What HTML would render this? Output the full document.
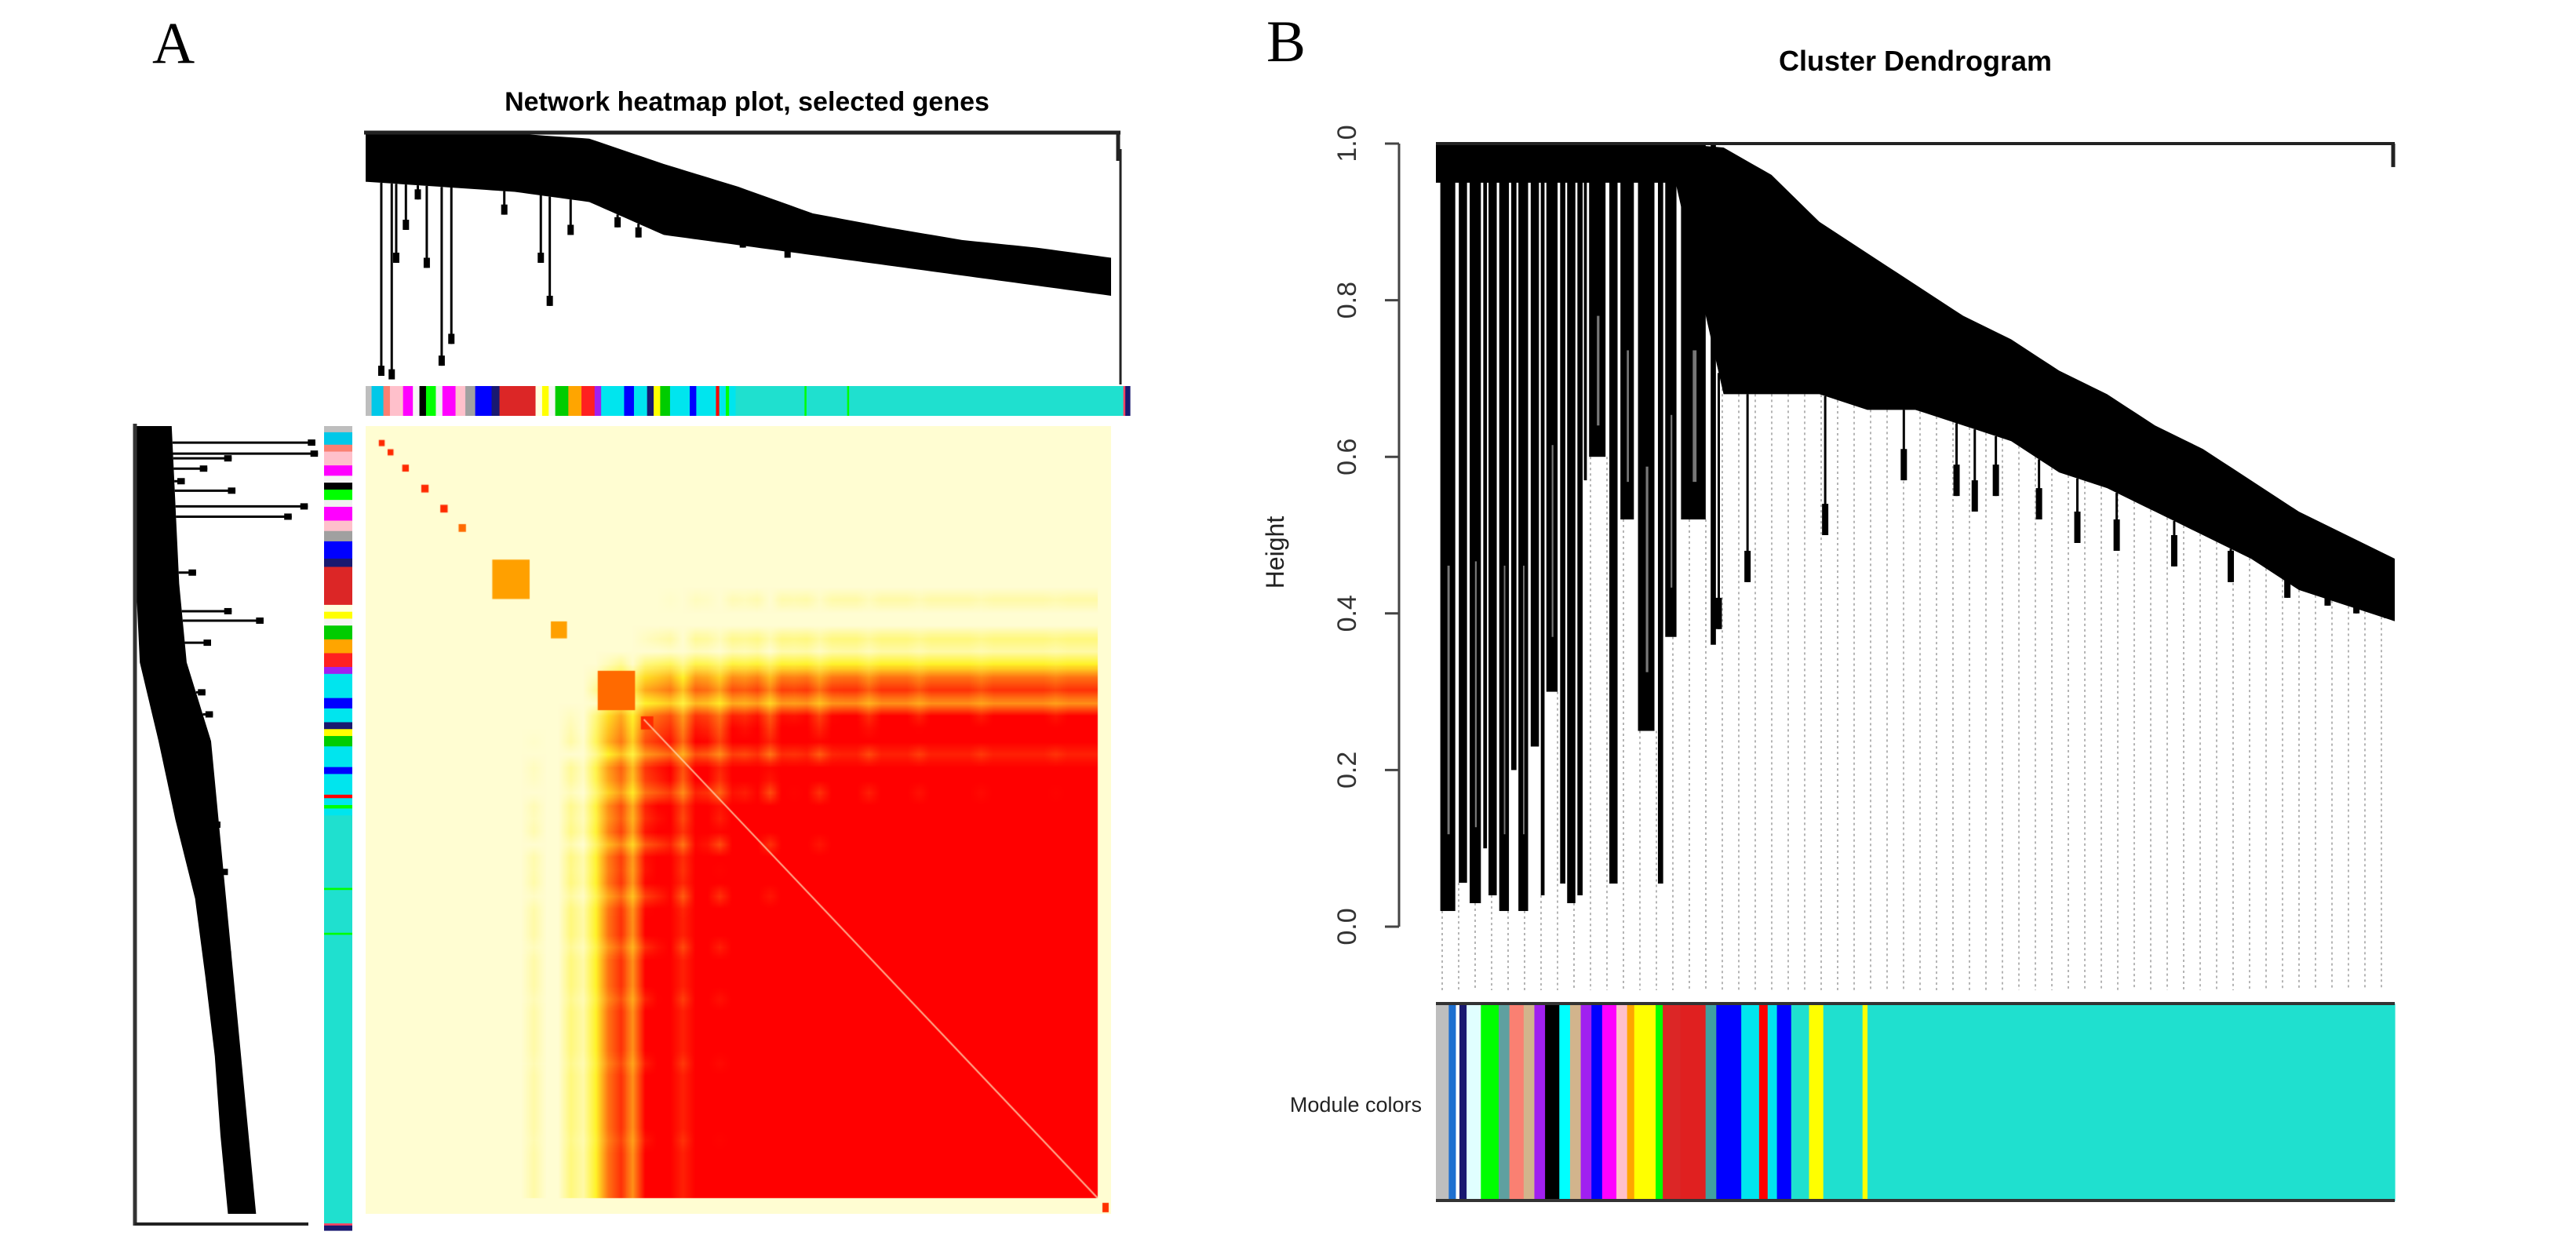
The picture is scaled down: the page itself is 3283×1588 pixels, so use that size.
<!DOCTYPE html>
<html><head><meta charset="utf-8"><style>
html,body{margin:0;padding:0;background:#fff;}
#wrap{position:relative;width:3283px;height:1588px;overflow:hidden;background:#fff;}
svg{position:absolute;left:0;top:0;}
#hm{position:absolute;left:466px;top:543px;}
</style></head><body>
<div id="wrap">
<canvas id="hm" width="950" height="1004"></canvas>
<svg id="svg" width="3283" height="1588" xmlns="http://www.w3.org/2000/svg">
<text x="194" y="80" font-family="Liberation Serif, serif" font-size="75">A</text>
<text x="952" y="141" text-anchor="middle" font-family="Liberation Sans, sans-serif" font-weight="bold" font-size="34">Network heatmap plot, selected genes</text>
<text x="1614" y="78" font-family="Liberation Serif, serif" font-size="75">B</text>
<text x="2441" y="90" text-anchor="middle" font-family="Liberation Sans, sans-serif" font-weight="bold" font-size="36">Cluster Dendrogram</text>
<text transform="translate(1636,704) rotate(-90)" text-anchor="middle" font-family="Liberation Sans, sans-serif" font-size="32" fill="#222">Height</text>
<text x="1812" y="1417" text-anchor="end" font-family="Liberation Sans, sans-serif" font-size="27" fill="#222">Module colors</text>
<g id="gA"></g>
<g id="gB"></g>
</svg>
</div>
<script>
// ---------- data ----------
const treeAUpper = [0.99,0.99,0.99,0.97,0.87,0.78,0.675,0.62,0.57,0.54,0.5];
const treeALower = [0.80,0.78,0.76,0.72,0.59,0.55,0.51,0.47,0.43,0.39,0.35];
const treeASpikePos = [0.021,0.035,0.041,0.054,0.07,0.082,0.102,0.115,0.186,0.235,0.247,0.275,0.338,0.366,0.506,0.566,0.668];
const treeASpikeH   = [0.034,0.02,0.48,0.61,0.73,0.46,0.074,0.16,0.67,0.48,0.31,0.59,0.62,0.58,0.54,0.5,0.51];
const modAColors = ["#bebebe","#00c8e8","#fa8072","#ffc0cb","#ff00ff","#f5f5f5","#000000","#00ff00","#f0f0f0","#ff00ff","#ffc0cb","#a0a0a0","#0000ff","#191970","#dc2626","#ffffe0","#ffff00","#f5f5f5","#00cc00","#ffa500","#ff2020","#a020f0","#00e5ee","#0000ff","#00e5ee","#191970","#ffff00","#00cc00","#00e5ee","#0000ff","#00e5ee","#ff0000","#00e5ee","#00ff00","#00e5ee","#1fe0cf","#00ff00","#1fe0cf","#00ff00","#1fe0cf","#ff4060","#191970"];
const modASizes  = [9,18,10,20,15,10,10,15,10,20,15,15,25,12,55,10,10,10,20,20,20,10,35,15,20,10,10,15,30,10,30,5,10,5,10,105,3,62,3,418,3,7];
const conn = [0.1,0.12,0.1,0.15,0.1,0.12,0.2,0.15,0.1,0.25,0.3,0.2,0.15,0.35,0.3,0.25,0.4,0.35,0.5,
 0.66,0.74,0.62,0.8,0.84,0.88,0.76,0.92,0.9,0.82,0.95,0.93,0.97,0.86,0.98,0.97,0.99,0.9,0.99,1,1,0.93,1,1,1,0.95,1,1,1,1,0.96,1,1,1,1,1,0.97,1,1,1,1];
const blockStart = [0.018,0.03,0.05,0.076,0.102,0.127,0.173,0.253,0.317,0.376];
const blockEnd   = [0.026,0.038,0.059,0.086,0.112,0.137,0.224,0.275,0.368,0.393];
const blockStr   = [1,1,0.9,1,0.9,0.8,0.6,0.6,0.75,1];
// Panel B: right-hand tree envelopes (21 samples over full width)
const treeBUpper = [1,1,1,1,1,1,0.995,0.96,0.9,0.86,0.82,0.78,0.75,0.71,0.68,0.64,0.61,0.57,0.53,0.5,0.47];
const treeBLower = [0.95,0.95,0.95,0.95,0.95,0.95,0.68,0.68,0.68,0.66,0.66,0.64,0.62,0.58,0.56,0.53,0.5,0.47,0.43,0.41,0.39];
const treeBSpikePos = [0.295,0.325,0.406,0.488,0.543,0.562,0.584,0.629,0.669,0.71,0.77,0.829,0.888,0.93,0.96,0.99];
const treeBSpikeH   = [0.38,0.44,0.5,0.57,0.55,0.53,0.55,0.52,0.49,0.48,0.46,0.44,0.42,0.41,0.4,0.4];
// Panel B: left "forest" of deep clusters (start, end position; bottom height)
const forestStart = [0.003,0.023,0.034,0.049,0.054,0.065,0.078,0.085,0.098,0.109,0.114,0.129,0.136,0.147,0.154,0.158,0.18,0.191,0.209,0.231,0.238,0.253,0.286];
const forestEnd   = [0.023,0.034,0.049,0.054,0.065,0.078,0.085,0.098,0.109,0.114,0.129,0.136,0.147,0.154,0.158,0.18,0.191,0.209,0.231,0.238,0.253,0.286,0.293];
const forestBottom= [0.02,0.056,0.03,0.1,0.04,0.02,0.2,0.02,0.23,0.04,0.3,0.055,0.03,0.04,0.57,0.6,0.055,0.52,0.25,0.055,0.37,0.52,0.36];
const yTicks = [0,0.2,0.4,0.6,0.8,1.0];
const yTickLabels = ["0.0","0.2","0.4","0.6","0.8","1.0"];
const modBColors = ["#bebebe","#1e6fd0","#ffffff","#191970","#e0ffff","#00ff00","#5fa0a0","#fa8072","#d2b48c","#a020f0","#000000","#00ffff","#d2b48c","#a020f0","#0000ff","#ff00ff","#ffc0cb","#ffa500","#ffff00","#00ff00","#dc2626","#e02020","#40a0a0","#0000ff","#00e5ee","#ff0000","#00e5ee","#0000ff","#1fe0cf","#ffff00","#1fe0cf","#ffff00","#1fe0cf"];
const modBSizes  = [18,10,5,10,20,25,15,20,15,15,20,15,15,15,15,20,15,10,30,10,25,35,15,35,25,12,13,20,25,20,55,7,739];

// ---------- helpers ----------
const NS = "http://www.w3.org/2000/svg";
function mk(parent, tag, attrs){ const e=document.createElementNS(NS,tag); for(const k in attrs) e.setAttribute(k,attrs[k]); parent.appendChild(e); return e; }
function interp(arr,f){ const n=arr.length-1; const p=Math.max(0,Math.min(n,f*n)); const i=Math.min(n-1,Math.floor(p)); const t=p-i; return arr[i]*(1-t)+arr[i+1]*t; }

function drawTree(g, upper, lower, spPos, spH, map, name){
  const pts=[]; const M=100;
  for(let k=0;k<=M;k++){ const f=k/M; pts.push(map(f,interp(upper,f))); }
  for(let k=M;k>=0;k--){ const f=k/M; pts.push(map(f,interp(lower,f))); }
  const poly = mk(g,'polygon',{points:pts.map(p=>p.join(',')).join(' '),fill:'#000'});
  
  
  for(let i=0;i<spPos.length;i++){
    const f=spPos[i]; const a=map(f,interp(lower,f)); const b=map(f,spH[i]);
    const ln = mk(g,'line',{x1:a[0],y1:a[1],x2:b[0],y2:b[1],stroke:'#000','stroke-width':3});
    
    
    const c = map(f,spH[i]+0.04);
    const tip = mk(g,'line',{x1:c[0],y1:c[1],x2:b[0],y2:b[1],stroke:'#000','stroke-width':8});
    
    
  }
}
function drawBar(g, colors, sizes, x0, y0, len, thick, vertical, name){
  const tot=sizes.reduce((a,b)=>a+b,0); let acc=0;
  for(let i=0;i<sizes.length;i++){
    const s=acc/tot*len, w=sizes[i]/tot*len+0.6; acc+=sizes[i];
    const r = vertical ? mk(g,'rect',{x:x0,y:y0+s,width:thick,height:w,fill:colors[i]})
                       : mk(g,'rect',{x:x0+s,y:y0,width:w,height:thick,fill:colors[i]});
    
    
  }
}

// ---------- Panel A ----------
const gA=document.getElementById('gA');
const HL=466, HR=1416, HT=543, HB=1547;
const topMap=(f,h)=>[HL+f*(HR-HL), 490-h*323];
drawTree(gA, treeAUpper, treeALower, treeASpikePos, treeASpikeH, topMap, 'top-dendrogram');
let e=mk(gA,'line',{x1:464,y1:169,x2:1428,y2:169,stroke:'#222','stroke-width':5});


e=mk(gA,'line',{x1:1425,y1:169,x2:1425,y2:205,stroke:'#222','stroke-width':5});


e=mk(gA,'line',{x1:1428,y1:190,x2:1428,y2:490,stroke:'#222','stroke-width':3});


const leftMap=(f,h)=>[410-h*239, HT+f*(HB-HT)];
drawTree(gA, treeAUpper, treeALower, treeASpikePos, treeASpikeH, leftMap, 'left-dendrogram');
e=mk(gA,'line',{x1:172,y1:540,x2:172,y2:1562,stroke:'#333','stroke-width':5});


e=mk(gA,'line',{x1:172,y1:1560,x2:393,y2:1560,stroke:'#222','stroke-width':4});


drawBar(gA, modAColors, modASizes, 466, 492, 974, 38, false, 'top-module-bar');
drawBar(gA, modAColors, modASizes, 413, 543, 1025, 36, true, 'left-module-bar');

(function(){
  const cv=document.getElementById('hm'); const ctx=cv.getContext('2d');
  ctx.fillStyle='#fffdd2'; ctx.fillRect(0,0,950,1004);
  const N=conn.length; const sm=document.createElement('canvas'); sm.width=N; sm.height=N;
  const sx=sm.getContext('2d'); const img=sx.createImageData(N,N);
  function col(v){
    if(v<0.3) return [255,253,210];
    if(v<0.5){ const t=(v-0.3)/0.2; return [255,253-t*10,210-t*170]; }
    if(v<0.8){ const t=(v-0.5)/0.3; return [255,243-t*243,40-t*40]; }
    return [255,0,0];
  }
  for(let i=0;i<N;i++) for(let j=0;j<N;j++){
    const c=col(conn[i]*conn[j]); const o=(i*N+j)*4;
    img.data[o]=c[0]; img.data[o+1]=c[1]; img.data[o+2]=c[2]; img.data[o+3]=255;
  }
  sx.putImageData(img,0,0);
  ctx.imageSmoothingEnabled=true;
  ctx.drawImage(sm,0,0,N,N,0,0,950,984);
  ctx.fillStyle='#fffdd2'; ctx.fillRect(950-17,0,17,1004); ctx.fillRect(0,984,950,20);
  for(let k=0;k<blockStart.length;k++){
    const s=blockStart[k], en=blockEnd[k], st=blockStr[k];
    ctx.fillStyle = st>0.85 ? '#ff2a00' : (st>0.7 ? '#ff6a00' : '#ffa000');
    ctx.fillRect(s*933, s*984, (en-s)*933, (en-s)*984);
  }
  ctx.strokeStyle='rgba(255,220,180,0.8)'; ctx.lineWidth=2;
  ctx.beginPath(); ctx.moveTo(0.38*933,0.38*984); ctx.lineTo(933,984); ctx.stroke();
  ctx.fillStyle='#ff3000'; ctx.fillRect(939,990,8,12);
})();

// ---------- Panel B ----------
const gB=document.getElementById('gB');
const BX0=1830, BX1=3052, BY0=1181, BY1=183;
const yB=h=>BY0-h*(BY0-BY1);
const xB=f=>BX0+f*(BX1-BX0);
const bMap=(f,h)=>[xB(f), yB(h)];
function lowAt(f){
  for(let i=0;i<forestStart.length;i++) if(f>=forestStart[i]&&f<forestEnd[i]) return forestBottom[i];
  return interp(treeBLower,f);
}
for(let x=BX0+8;x<=BX1;x+=21){
  const f=(x-BX0)/(BX1-BX0);
  const d=mk(gB,'line',{x1:x,y1:yB(lowAt(f)),x2:x,y2:1262,stroke:'#b5b5b5','stroke-width':2,'stroke-dasharray':'3 4'});
  
  
}
drawTree(gB, treeBUpper, treeBLower, treeBSpikePos, treeBSpikeH, bMap, 'cluster-dendrogram');
// forest of deep clusters
for(let i=0;i<forestStart.length;i++){
  const x0=xB(forestStart[i]), x1=xB(forestEnd[i]); const w=x1-x0;
  const r=mk(gB,'rect',{x:x0+w*0.08,y:yB(1),width:Math.max(3,w*0.78),height:yB(forestBottom[i])-yB(1),fill:'#000'});
  
  
  if(w>14){
    const g2=mk(gB,'rect',{x:x0+w*0.45,y:yB(1)+ (yB(forestBottom[i])-yB(1))*0.55,width:w*0.12,height:(yB(forestBottom[i])-yB(1))*0.35,fill:'#777'});
    
    
  }
}
e=mk(gB,'line',{x1:BX0,y1:yB(1),x2:BX1,y2:yB(1),stroke:'#222','stroke-width':4});


e=mk(gB,'line',{x1:BX1-2,y1:yB(1),x2:BX1-2,y2:yB(0.97),stroke:'#222','stroke-width':5});


e=mk(gB,'line',{x1:1783,y1:yB(0),x2:1783,y2:yB(1),stroke:'#444','stroke-width':3});


for(let i=0;i<yTicks.length;i++){
  const y=yB(yTicks[i]);
  const t=mk(gB,'line',{x1:1765,y1:y,x2:1783,y2:y,stroke:'#444','stroke-width':3});
  
  
  const lb=mk(gB,'text',{transform:`translate(1728,${y}) rotate(-90)`,'text-anchor':'middle','font-family':'Liberation Sans, sans-serif','font-size':34,fill:'#333'});
  lb.textContent=yTickLabels[i];
  
  
}
drawBar(gB, modBColors, modBSizes, BX0, 1279, BX1-BX0, 252, false, 'module-color-bar');
e=mk(gB,'line',{x1:BX0,y1:1279,x2:BX1,y2:1279,stroke:'#333','stroke-width':4});


e=mk(gB,'line',{x1:BX0,y1:1530,x2:BX1,y2:1530,stroke:'#333','stroke-width':4});


</script>
</body></html>
